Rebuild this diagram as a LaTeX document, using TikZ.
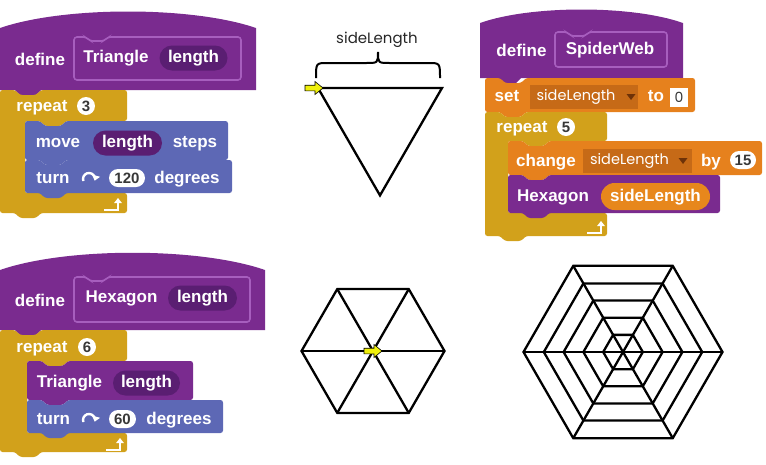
\documentclass[tikz,border=0pt]{standalone}
\usepackage{fontspec}
\setmainfont{Liberation Sans}
\newfontfamily\geofont{Poppins}
\usetikzlibrary{arrows.meta,shapes.misc}

\definecolor{procpurple}{HTML}{7A2B8F}
\definecolor{argpurple}{HTML}{5A1E72}
\definecolor{framepurple}{HTML}{A75EBE}
\definecolor{ctrlgold}{HTML}{D2A11B}
\definecolor{motionblue}{HTML}{5D68B5}
\definecolor{varorange}{HTML}{E6811D}
\definecolor{fieldorange}{HTML}{C66A17}
\definecolor{ddarrow}{HTML}{6E3208}
\definecolor{turtleyellow}{HTML}{F0F00C}

% stack block: x0, top, x1, bottom, colour
\newcommand{\stackblk}[5]{%
	\fill[#5, rounded corners=2.5] (#1,#2) -- (#1+15,#2) -- (#1+20,#2+5) -- (#1+36,#2+5) -- (#1+41,#2) -- (#3,#2) -- (#3,#4) -- (#1+41,#4) -- (#1+36,#4+5) -- (#1+20,#4+5) -- (#1+15,#4) -- (#1,#4) -- cycle;}
% hat block: x0, x1, side top, bottom, rise
\newcommand{\hatblk}[5]{%
	\fill[procpurple] (#1,#4) -- (#1,#3) .. controls ({#1+0.25*(#2-#1)},{#3-#5}) and ({#2-0.25*(#2-#1)},{#3-#5}) .. (#2,#3) -- (#2,#4) -- (#1+41,#4) -- (#1+36,#4+5) -- (#1+20,#4+5) -- (#1+15,#4) -- cycle;}
% C block: x0, top, x1, arm top, arm x, foot top, bottom
\newcommand{\cblk}[7]{%
	\fill[ctrlgold, rounded corners=2.5] (#1,#2) -- (#1+15,#2) -- (#1+20,#2+5) -- (#1+36,#2+5) -- (#1+41,#2) -- (#3,#2) -- (#3,#4) -- (#5+41,#4) -- (#5+36,#4+5) -- (#5+20,#4+5) -- (#5+15,#4) -- (#5,#4) -- (#5,#6) -- (#3,#6) -- (#3,#7) -- (#1+41,#7) -- (#1+36,#7+5) -- (#1+20,#7+5) -- (#1+15,#7) -- (#1,#7) -- cycle;}
% prototype frame: x0, top, x1, bottom
\newcommand{\protoframe}[4]{%
	\draw[framepurple, line width=1.6, rounded corners=3] (#1,#2) -- (#1+12,#2) -- (#1+16,#2+4) -- (#1+30,#2+4) -- (#1+34,#2) -- (#3,#2) -- (#3,#4) -- (#1,#4) -- cycle;}
\newcommand{\turnicon}[2]{%
	\draw[white, line width=2.4, -{Triangle[length=5pt,width=8pt]}] (#1,#2) ++(160:6) arc[start angle=160, end angle=375, radius=6];}
\newcommand{\loopicon}[2]{%
	\draw[white, line width=2.2, -{Triangle[length=5pt,width=7.5pt]}] (#1-14,#2) -- (#1,#2) -- (#1,#2-12);}
\newcommand{\ddtip}[2]{%
	\fill[ddarrow] (#1-4.5,#2-3) -- (#1+4.5,#2-3) -- (#1,#2+3) -- cycle;}
% turtle: head base x, y
\newcommand{\turtle}[2]{%
	\filldraw[fill=turtleyellow, draw=black, line width=0.6] (#1-10,#2-2.8) -- (#1,#2-2.8) -- (#1,#2-6.5) -- (#1+8,#2) -- (#1,#2+6.5) -- (#1,#2+2.8) -- (#1-10,#2+2.8) -- cycle;}

\begin{document}
\begin{tikzpicture}[x=1pt, y=-1pt,
	blk/.style={text=white, font=\fontsize{17}{19}\selectfont\bfseries, inner sep=0, text height=12.5, text depth=3.5},
	argpill/.style={rounded rectangle, fill=argpurple, text=white, font=\fontsize{17}{19}\selectfont\bfseries, inner xsep=3, inner ysep=0, text height=12.5, text depth=3.5, minimum height=25},
	numpill/.style={rounded rectangle, fill=white, text=black!78, font=\fontsize{15}{17}\selectfont\bfseries, inner xsep=2, inner ysep=0, text height=11, text depth=0, minimum height=18},
	ddfield/.style={rectangle, fill=fieldorange, text=white, font=\geofont\fontsize{14.5}{17}\selectfont, inner xsep=6, inner ysep=0, minimum height=24, text height=11, text depth=3, align=left},
	pen/.style={black, line width=2.3}]
	\useasboundingbox (0,0) rectangle (766,464);

	% define Triangle
	\hatblk{0}{256}{28}{90}{22}
	\protoframe{74}{37}{241}{80}
	\cblk{0}{90}{127}{121}{25}{193}{213}
	\stackblk{25}{121}{228}{160}{motionblue}
	\stackblk{25}{160}{232}{193}{motionblue}
	\node[blk] (defTriKw) at (40,61) {define};
	\node[blk] (defTriName) at (116,58) {Triangle};
	\node[argpill, minimum width=74] (defTriArg) at (193.5,58) {length};
	\node[blk] (repTriKw) at (42,107) {repeat};
	\node[numpill, minimum width=21] (repTriNum) at (86,106) {3};
	\node[blk] (moveKw) at (58,143) {move};
	\node[argpill, minimum width=75] (moveArg) at (127.5,143) {length};
	\node[blk] (moveSteps) at (195,143) {steps};
	\node[blk] (turnTriKw) at (53,179) {turn};
	\turnicon{89}{179}
	\node[numpill, minimum width=40] (turnTriNum) at (127,178) {120};
	\node[blk] (turnTriDeg) at (187,179) {degrees};
	\loopicon{118}{210}

	% define Hexagon
	\hatblk{0}{265}{270}{330}{23}
	\protoframe{74}{277}{250}{322}
	\cblk{0}{330}{127}{361}{27}{433}{452}
	\stackblk{27}{361}{193}{400}{procpurple}
	\stackblk{27}{400}{223}{433}{motionblue}
	\node[blk] (defHexKw) at (40,302) {define};
	\node[blk] (defHexName) at (121.5,298) {Hexagon};
	\node[argpill, minimum width=75] (defHexArg) at (202.5,298) {length};
	\node[blk] (repHexKw) at (42,348) {repeat};
	\node[numpill, minimum width=21] (repHexNum) at (87,347) {6};
	\node[blk] (callTriName) at (69.5,383) {Triangle};
	\node[argpill, minimum width=73] (callTriArg) at (146.5,383) {length};
	\node[blk] (turnHexKw) at (53.5,420) {turn};
	\turnicon{89}{420}
	\node[numpill, minimum width=31] (turnHexNum) at (122.5,419) {60};
	\node[blk] (turnHexDeg) at (179,420) {degrees};
	\loopicon{120}{450}

	% define SpiderWeb
	\hatblk{480}{683}{23}{78}{18}
	\protoframe{555}{32}{667}{67}
	\stackblk{485}{78}{695}{112}{varorange}
	\cblk{485}{112}{607}{141}{508}{213}{236}
	\stackblk{508}{141}{762}{175}{varorange}
	\stackblk{508}{175}{720}{213}{procpurple}
	\node[blk] (defWebKw) at (521.5,52) {define};
	\node[blk] (defWebName) at (610,50) {SpiderWeb};
	\node[blk] (setKw) at (507,97) {set};
	\node[ddfield, minimum width=108] (setVar) at (584,96.5) {sideLength\hspace{16pt}};
	\ddtip{631}{97}
	\node[blk] (setTo) at (656,97) {to};
	\node[rectangle, fill=white, text=black!78, font=\geofont\fontsize{14}{16}\selectfont, minimum width=18, minimum height=19, inner sep=0] (setVal) at (679,97) {0};
	\node[blk] (repWebKw) at (522,128) {repeat};
	\node[numpill, minimum width=20] (repWebNum) at (566,127) {5};
	\node[blk] (changeKw) at (546,162) {change};
	\node[ddfield, minimum width=109] (changeVar) at (637.5,160.5) {sideLength\hspace{16pt}};
	\ddtip{683}{161}
	\node[blk] (changeBy) at (711,162) {by};
	\node[numpill, minimum width=30] (changeVal) at (743,160) {15};
	\node[blk] (callHexName) at (553,197) {Hexagon};
	\node[argpill, fill=varorange!95!yellow, minimum width=115, minimum height=27] (callHexArg) at (655.5,196.5) {sideLength};
	\loopicon{601}{233}

	% triangle drawing
	\coordinate (triA) at (318,88);
	\coordinate (triB) at (442,88);
	\coordinate (triC) at (380,195.4);
	\draw[pen] (triA) -- (triB) -- (triC) -- cycle;
	\draw[pen, line width=2] (316,78) .. controls (316,63) .. (328,63) -- (366,63) .. controls (378,63) .. (378,52) .. controls (378,63) .. (390,63) -- (428,63) .. controls (440,63) .. (440,78);
	\node[font=\geofont\fontsize{15}{17}\selectfont, text=black!85, inner sep=0] (sideLabel) at (377,40) {sideLength};
	\turtle{315}{88}

	% hexagon drawing
	\coordinate (hexO) at (373,351);
	\draw[pen] (hexO) +(0:71.5) -- +(60:71.5) -- +(120:71.5) -- +(180:71.5) -- +(240:71.5) -- +(300:71.5) -- cycle;
	\foreach \a in {0,60,120}
		\draw[pen] (hexO) +(\a:71.5) -- +(\a+180:71.5);
	\turtle{374}{351}

	% spider web drawing
	\coordinate (webO) at (623,352);
	\foreach \r in {19.8,39.6,59.4,79.2,99.5}
		\draw[pen] (webO) +(0:\r) -- +(60:\r) -- +(120:\r) -- +(180:\r) -- +(240:\r) -- +(300:\r) -- cycle;
	\foreach \a in {0,60,120}
		\draw[pen] (webO) +(\a:99.5) -- +(\a+180:99.5);
\end{tikzpicture}
\end{document}
